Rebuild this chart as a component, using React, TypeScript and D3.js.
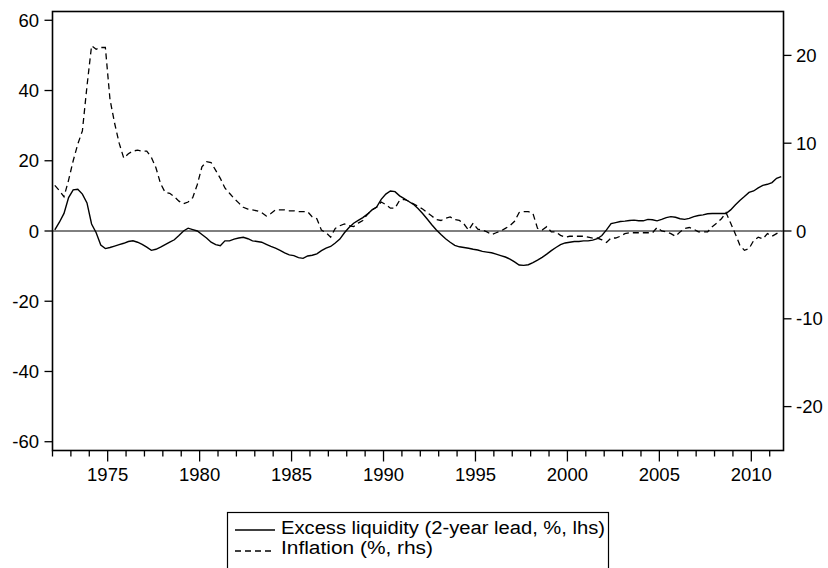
import React from "react";
import * as d3 from "d3";

// Quarterly observations, 1972Q1 .. 2011Q3
const startYear = 1972;
const excessLiquidity = [
  0.3, 2.5, 5.0, 9.5,
  11.7, 11.9, 10.5, 8.0,
  2.0, -0.5, -4.0, -5.0,
  -4.7, -4.3, -3.9, -3.5,
  -3.0, -2.8, -3.2, -3.8,
  -4.6, -5.5, -5.2, -4.6,
  -3.9, -3.2, -2.5, -1.3,
  0.0, 0.8, 0.4, 0.0,
  -1.0, -2.0, -3.2, -3.9,
  -4.2, -2.8, -2.8, -2.3,
  -2.0, -1.8, -2.2, -2.8,
  -3.0, -3.2, -3.8, -4.4,
  -4.9, -5.5, -6.2, -6.8,
  -7.0, -7.6, -7.8, -7.1,
  -6.9, -6.5, -5.6, -4.9,
  -4.4, -3.4, -2.3, -0.5,
  1.0, 2.2, 3.0, 3.8,
  4.8, 6.0, 6.8, 9.0,
  10.5, 11.4, 11.2, 10.0,
  9.2, 8.4, 7.6, 6.4,
  5.0, 3.4, 1.8, 0.3,
  -1.0, -2.2, -3.2, -4.1,
  -4.5, -4.7, -4.9, -5.2,
  -5.4, -5.8, -6.0, -6.2,
  -6.6, -7.0, -7.4, -8.0,
  -8.8, -9.7, -9.8, -9.6,
  -9.0, -8.3, -7.5, -6.6,
  -5.6, -4.7, -3.9, -3.4,
  -3.2, -3.0, -3.0, -2.8,
  -2.8, -2.6, -2.2, -1.3,
  0.3, 2.1, 2.4, 2.7,
  2.8, 3.0, 3.1, 2.9,
  2.9, 3.3, 3.2, 2.9,
  3.3, 3.8, 4.1, 3.9,
  3.5, 3.3, 3.6, 4.1,
  4.4, 4.6, 4.9, 5.0,
  5.0, 5.0, 5.0, 6.0,
  7.4, 8.7, 9.8, 11.0,
  11.4, 12.3, 13.0, 13.3,
  13.8, 15.0, 15.5,
];
const inflation = [
  5.2, 4.6, 3.9, 5.8,
  8.0, 9.9, 11.4, 16.5,
  21.1, 20.7, 20.9, 20.9,
  15.0, 12.3, 10.0, 8.3,
  8.8, 9.1, 9.2, 9.1,
  9.1, 8.4, 7.2, 5.4,
  4.4, 4.3, 3.9, 3.4,
  3.1, 3.3, 3.8, 5.3,
  7.3, 7.9, 7.8, 6.9,
  6.0, 4.9, 4.3, 3.7,
  3.2, 2.7, 2.5, 2.4,
  2.3, 2.1, 1.7, 2.0,
  2.4, 2.4, 2.4, 2.3,
  2.3, 2.2, 2.2, 2.2,
  1.6, 1.4, 0.1, -0.2,
  -0.7, 0.3, 0.6, 0.8,
  0.6, 0.5, 0.9, 1.2,
  1.9, 2.4, 2.7, 3.3,
  3.0, 2.6, 2.6, 3.5,
  3.6, 3.4, 3.1, 2.8,
  2.5, 2.1, 1.7, 1.3,
  1.2, 1.45, 1.6, 1.3,
  1.2, 0.8, 0.1, 0.9,
  0.2, 0.1, -0.1, -0.4,
  -0.2, 0.0, 0.3, 0.6,
  1.1, 2.1, 2.2, 2.2,
  2.0, 0.3, 0.1, 0.5,
  -0.1, -0.1, -0.5, -0.7,
  -0.6, -0.6, -0.6, -0.6,
  -0.7, -0.8, -0.8, -1.0,
  -1.3, -0.8, -0.8, -0.6,
  -0.3, -0.2, -0.2, -0.2,
  -0.2, -0.2, -0.2, 0.4,
  0.0, -0.1, -0.3, -0.6,
  -0.1, 0.3, 0.4, 0.2,
  -0.1, -0.1, -0.1, 0.5,
  0.9, 1.4, 2.1, 0.9,
  -0.3, -1.6, -2.2, -2.0,
  -1.1, -0.7, -0.9, -0.3,
  -0.6, -0.3, 0.0,
];
const leftTicks = [60, 40, 20, 0, -20, -40, -60];
const rightTicks = [20, 10, 0, -10, -20];
const labelYears = [1975, 1980, 1985, 1990, 1995, 2000, 2005, 2010];
const tickYears = d3.range(1972, 2012);
const legendLabels = ["Excess liquidity (2-year lead, %, lhs)", "Inflation (%, rhs)"];

const W = 828;
const H = 568;
const FONT = "'Liberation Sans', Arial, Helvetica, sans-serif";

export default function App() {
  const x = d3.scaleLinear().domain([1972, 2011.75]).range([52.5, 783.5]);
  const yL = d3.scaleLinear().domain([-62.5, 62.5]).range([450.5, 11.5]);
  const yR = d3.scaleLinear().domain([-25, 25]).range([450.5, 11.5]);
  const t = (i: number) => startYear + 0.125 + i * 0.25;

  const lineL = d3
    .line<number>()
    .x((_, i) => x(t(i)))
    .y((d) => yL(d));
  const lineR = d3
    .line<number>()
    .x((_, i) => x(t(i)))
    .y((d) => yR(d));

  const [x0, x1] = x.range();
  const [yb, yt] = yL.range();

  return (
    <svg
      width={W}
      height={H}
      style={{ position: "absolute", left: 0, top: 0, background: "#fff" }}
      fontFamily={FONT}
    >
      <rect x={0} y={0} width={W} height={H} fill="#fff" />
      {/* zero line */}
      <line x1={x0} x2={x1} y1={yL(0)} y2={yL(0)} stroke="#000" strokeWidth={1} />
      {/* series */}
      <path d={lineR(inflation) || ""} fill="none" stroke="#000" strokeWidth={1.3} strokeDasharray="6,4" />
      <path d={lineL(excessLiquidity) || ""} fill="none" stroke="#000" strokeWidth={1.4} />
      {/* frame */}
      <rect x={x0} y={yt} width={x1 - x0} height={yb - yt} fill="none" stroke="#000" strokeWidth={1.6} />
      {/* left axis */}
      {leftTicks.map((v) => (
        <g key={"l" + v}>
          <line x1={x0 - 8} x2={x0} y1={yL(v)} y2={yL(v)} stroke="#000" strokeWidth={1.3} />
          <text x={39} y={yL(v) + 6.5} textAnchor="end" fontSize={18.5} fill="#000">
            {v}
          </text>
        </g>
      ))}
      {/* right axis */}
      {rightTicks.map((v) => (
        <g key={"r" + v}>
          <line x1={x1} x2={x1 + 8} y1={yR(v)} y2={yR(v)} stroke="#000" strokeWidth={1.3} />
          <text x={796} y={yR(v) + 6.5} textAnchor="start" fontSize={18.5} fill="#000">
            {v}
          </text>
        </g>
      ))}
      {/* bottom axis */}
      {tickYears.map((yr) => {
        const major = labelYears.includes(yr);
        return (
          <line
            key={"t" + yr}
            x1={x(yr)}
            x2={x(yr)}
            y1={yb}
            y2={yb + (major ? 11 : 6)}
            stroke="#000"
            strokeWidth={1.3}
          />
        );
      })}
      {labelYears.map((yr) => (
        <text key={"y" + yr} x={x(yr)} y={481} textAnchor="middle" fontSize={18.5} fill="#000">
          {yr}
        </text>
      ))}
      {/* legend */}
      <rect x={227.5} y={512.5} width={381} height={80} fill="#fff" stroke="#000" strokeWidth={1.2} />
      <line x1={235} x2={275} y1={530} y2={530} stroke="#000" strokeWidth={1.3} />
      <line x1={235} x2={275} y1={551} y2={551} stroke="#000" strokeWidth={1.3} strokeDasharray="6,4" />
      <text x={281} y={533.5} fontSize={18} fill="#000" textLength={324} lengthAdjust="spacingAndGlyphs">
        {legendLabels[0]}
      </text>
      <text x={281} y={554} fontSize={18} fill="#000" textLength={152} lengthAdjust="spacingAndGlyphs">
        {legendLabels[1]}
      </text>
    </svg>
  );
}
